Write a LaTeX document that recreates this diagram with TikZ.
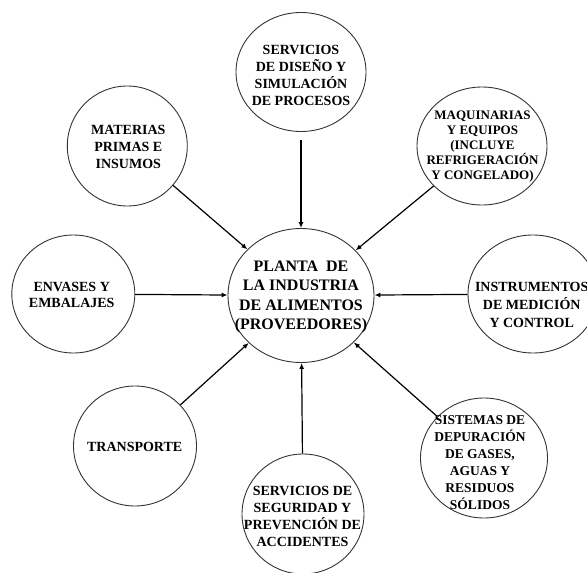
\documentclass[tikz,border=0pt]{standalone}
\usepackage{fontspec}
\setmainfont{Liberation Serif}
\usetikzlibrary{shapes.geometric,arrows.meta}
\begin{document}
\begin{tikzpicture}[x=1pt,y=-1pt,
  bub/.style={ellipse,draw=black!80,line width=0.9pt,inner sep=0pt},
  txt/.style={align=center,font=\bfseries\fontsize{14}{17}\selectfont,inner sep=0pt},
  arr/.style={line width=1.2pt,-{Latex[length=6pt,width=5pt]}}]
\useasboundingbox (0,0) rectangle (587,573);
% bubbles
\node[bub,minimum width=146pt,minimum height=134pt] (c) at (301,295.5) {};
\node[bub,minimum width=130pt,minimum height=119pt] (t) at (301,72) {};
\node[bub,minimum width=120pt,minimum height=120pt] (tl) at (127.3,146) {};
\node[bub,minimum width=123pt,minimum height=118pt] (l) at (73.3,294) {};
\node[bub,minimum width=123pt,minimum height=120pt] (bl) at (135,446) {};
\node[bub,minimum width=122pt,minimum height=120pt] (b) at (303,514) {};
\node[bub,minimum width=127pt,minimum height=120pt] (br) at (484,458) {};
\node[bub,minimum width=130pt,minimum height=118pt] (r) at (533,294) {};
\node[bub,minimum width=130pt,minimum height=118pt] (tr) at (482,146) {};
% texts
\node[txt,font=\bfseries\fontsize{16}{19.5}\selectfont] (ct) at (301,297) {PLANTA\ \ DE\\LA INDUSTRIA\\DE ALIMENTOS\\(PROVEEDORES)};
\node[txt] (tt) at (301,75) {SERVICIOS\\DE DISEÑO Y\\SIMULACIÓN\\DE PROCESOS};
\node[txt] (tlt) at (128.3,147) {MATERIAS\\PRIMAS E\\INSUMOS};
\node[txt,font=\bfseries\fontsize{14}{16}\selectfont] (lt) at (71.7,294.5) {ENVASES Y\\EMBALAJES};
\node[txt] (blt) at (134.7,446.7) {TRANSPORTE};
\node[txt] (bt) at (302.5,516) {SERVICIOS DE\\SEGURIDAD Y\\PREVENCIÓN DE\\ACCIDENTES};
\node[txt,font=\bfseries\fontsize{13.5}{17}\selectfont] (brt) at (480,462.5) {SISTEMAS DE\\DEPURACIÓN\\DE GASES,\\AGUAS Y\\RESIDUOS\\SÓLIDOS};
\node[txt,font=\bfseries\fontsize{14}{18}\selectfont] (rt) at (531.7,305) {INSTRUMENTOS\\DE MEDICIÓN\\Y CONTROL};
\node[txt,font=\bfseries\fontsize{13}{15}\selectfont] (trt) at (482.5,146.7) {MAQUINARIAS\\Y EQUIPOS\\(INCLUYE\\REFRIGERACIÓN\\Y CONGELADO)};
% connectors
\draw[arr,shorten <=8pt] (t) -- (c);
\draw[arr] (tl) -- (c);
\draw[arr] (tr) -- (c);
\draw[arr] (l) -- (c);
\draw[arr] (r) -- (c);
\draw[arr] (bl) -- (c);
\draw[arr] (br) -- (c);
\draw[arr] (b) -- (c);
\end{tikzpicture}
\end{document}
